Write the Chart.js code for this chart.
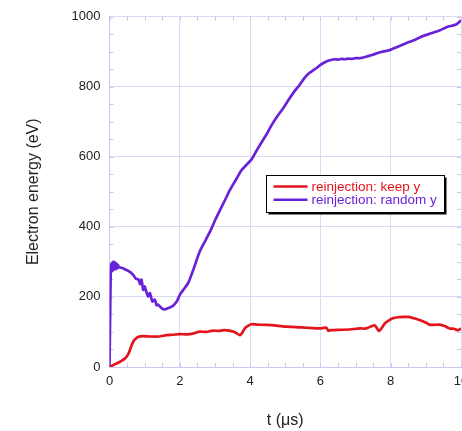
<!DOCTYPE html>
<html>
<head>
<meta charset="utf-8">
<script src="https://cdn.jsdelivr.net/npm/chart.js@4/dist/chart.umd.min.js"></script>
<style>
  html, body { margin: 0; padding: 0; background: #ffffff; }
  #wrap { width: 462px; height: 431px; }
</style>
</head>
<body>
<div id="wrap"><canvas id="c" width="462" height="431"></canvas></div>
<script>
// ---- data ----
const seriesLabels = ['reinjection: keep y', 'reinjection: random y'];
const xTicks = [0, 2, 4, 6, 8, 10];
const yTicks = [0, 200, 400, 600, 800, 1000];

const tKeep = [0, 0.1, 0.2, 0.3, 0.44, 0.54, 0.63, 0.7, 0.76, 0.82, 0.95, 1.15, 1.4, 1.63, 1.8, 2.0, 2.2, 2.4, 2.57, 2.75, 2.95, 3.1, 3.25, 3.4, 3.52, 3.62, 3.71, 3.78, 3.85, 3.95, 4.04, 4.2, 4.47, 4.75, 5.03, 5.3, 5.6, 5.98, 6.17, 6.22, 6.3, 6.55, 6.83, 7.12, 7.3, 7.45, 7.55, 7.66, 7.75, 7.83, 7.95, 8.06, 8.2, 8.35, 8.5, 8.63, 8.8, 9.01, 9.1, 9.2, 9.39, 9.55, 9.67, 9.8, 9.91, 10];
const eKeep = [0, 5, 10, 15, 24, 38, 62, 76, 82, 86, 88, 87, 87, 91, 92, 94, 93, 96, 101, 100, 104, 103, 105, 104, 101, 96, 91, 98, 110, 118, 122, 121, 120, 118, 115, 114, 112, 110, 112, 104, 105, 106, 107, 110, 110, 116, 119, 103, 112, 124, 133, 139, 142, 143, 143, 140, 135, 126, 121, 120, 121, 116, 110, 109, 105, 110];

const tRandom = [0, 0.035, 0.045, 0.055, 0.065, 0.075, 0.085, 0.095, 0.105, 0.115, 0.125, 0.135, 0.145, 0.155, 0.165, 0.175, 0.185, 0.195, 0.205, 0.215, 0.225, 0.235, 0.245, 0.26, 0.3, 0.38, 0.45, 0.52, 0.6, 0.68, 0.75, 0.82, 0.87, 0.91, 0.96, 1.0, 1.05, 1.1, 1.15, 1.22, 1.29, 1.34, 1.38, 1.48, 1.57, 1.67, 1.77, 1.86, 1.93, 2.0, 2.1, 2.24, 2.4, 2.57, 2.75, 2.9, 3.0, 3.14, 3.28, 3.42, 3.6, 3.76, 3.9, 4.04, 4.2, 4.35, 4.47, 4.6, 4.75, 4.94, 5.1, 5.25, 5.41, 5.55, 5.7, 5.89, 6.0, 6.1, 6.2, 6.3, 6.4, 6.5, 6.6, 6.7, 6.8, 6.9, 7.0, 7.12, 7.3, 7.49, 7.7, 7.97, 8.2, 8.44, 8.7, 8.91, 9.15, 9.39, 9.6, 9.86, 10];
const eRandom = [0, 276, 292, 272, 296, 274, 298, 276, 300, 278, 298, 280, 299, 279, 297, 281, 295, 280, 294, 282, 292, 283, 290, 286, 284, 282, 278, 275, 270, 262, 252, 250, 236, 249, 220, 230, 214, 201, 211, 187, 192, 176, 178, 168, 164, 168, 172, 180, 190, 206, 220, 240, 282, 330, 365, 395, 418, 447, 475, 504, 535, 562, 577, 592, 620, 645, 664, 688, 712, 738, 763, 785, 805, 825, 840, 853, 862, 868, 873, 876, 878, 877, 879, 878, 880, 879, 881, 881, 885, 891, 898, 904, 914, 924, 934, 944, 952, 960, 970, 977, 989, 994];

// ---- styles ----
const RED = '#e4141c';
const PURPLE = '#6a22d8';
const GRID = '#dadaf8';
const FRAME = '#c8c8f2';
const FONT = '"Liberation Sans", Arial, Helvetica, sans-serif';

function pts(xs, ys) { return xs.map((x, i) => ({ x: x, y: ys[i] })); }

const minorTicks = {
  id: 'minorTicks',
  beforeDatasetsDraw(chart) {
    const { ctx, chartArea: a, scales: { x, y } } = chart;
    ctx.save();
    ctx.strokeStyle = FRAME;
    ctx.lineWidth = 1;
    const len = 4;
    ctx.beginPath();
    for (let v = 0; v <= 10.0001; v += 0.5) {
      const px = Math.round(x.getPixelForValue(v)) + 0.5;
      ctx.moveTo(px, a.bottom); ctx.lineTo(px, a.bottom - len);
      ctx.moveTo(px, a.top); ctx.lineTo(px, a.top + len);
    }
    for (let v = 0; v <= 1000.001; v += 50) {
      const py = Math.round(y.getPixelForValue(v)) + 0.5;
      ctx.moveTo(a.left, py); ctx.lineTo(a.left + len, py);
      ctx.moveTo(a.right, py); ctx.lineTo(a.right - len, py);
    }
    ctx.stroke();
    ctx.restore();
  }
};

const boxLegend = {
  id: 'boxLegend',
  afterDraw(chart) {
    const ctx = chart.ctx;
    const L = 266.5, T = 175.5, W = 178, H = 37;
    ctx.save();
    ctx.fillStyle = '#000';
    ctx.fillRect(L + 2, T + 2, W, H);
    ctx.fillStyle = '#fff';
    ctx.fillRect(L, T, W, H);
    ctx.strokeStyle = '#000';
    ctx.lineWidth = 1;
    ctx.strokeRect(L, T, W, H);
    ctx.font = '13.5px ' + FONT;
    ctx.textBaseline = 'middle';
    chart.data.datasets.forEach((ds, i) => {
      const yy = T + 11 + i * 13.3;
      ctx.strokeStyle = ds.borderColor;
      ctx.lineWidth = 2.5;
      ctx.beginPath();
      ctx.moveTo(L + 7, yy); ctx.lineTo(L + 41, yy);
      ctx.stroke();
      ctx.fillStyle = ds.borderColor;
      ctx.fillText(ds.label, L + 45, yy + 0.5);
    });
    ctx.restore();
  }
};

new Chart(document.getElementById('c'), {
  type: 'line',
  data: {
    datasets: [
      { label: seriesLabels[0], data: pts(tKeep, eKeep), borderColor: RED, backgroundColor: RED, borderWidth: 2.7, pointRadius: 0, tension: 0.25, order: 1 },
      { label: seriesLabels[1], data: pts(tRandom, eRandom), borderColor: PURPLE, backgroundColor: PURPLE, borderWidth: 2.7, pointRadius: 0, tension: 0.25, order: 2 }
    ]
  },
  options: {
    responsive: false,
    animation: false,
    events: [],
    layout: { padding: { top: 16.5, right: 1, left: 0, bottom: 0 } },
    plugins: { legend: { display: false }, tooltip: { enabled: false } },
    scales: {
      x: {
        type: 'linear', min: 0, max: 10,
        afterBuildTicks(s) { s.ticks = xTicks.map(v => ({ value: v })); },
        afterFit(s) { s.height = 64; s.paddingLeft = 0; s.paddingRight = 0; },
        grid: { color: GRID, drawTicks: false, lineWidth: 1 },
        border: { color: FRAME },
        ticks: { color: '#222', font: { family: FONT, size: 13 }, padding: 7, maxRotation: 0, autoSkip: false, callback: v => String(v) },
        title: { display: true, text: 't (\u03bcs)', color: '#222', font: { family: FONT, size: 16 }, padding: { top: 0, bottom: 0.5 } }
      },
      y: {
        type: 'linear', min: 0, max: 1000,
        afterBuildTicks(s) { s.ticks = yTicks.map(v => ({ value: v })); },
        afterFit(s) { s.width = 109.5; s.paddingTop = 0; s.paddingBottom = 0; },
        grid: { color: GRID, drawTicks: false, lineWidth: 1 },
        border: { color: FRAME },
        ticks: { color: '#222', font: { family: FONT, size: 13 }, padding: 9, autoSkip: false, callback: v => String(v) },
        title: { display: true, text: 'Electron energy (eV)', color: '#222', font: { family: FONT, size: 16 }, padding: { top: 23.5, bottom: 0 } }
      }
    }
  },
  plugins: [minorTicks, boxLegend]
});
</script>
</body>
</html>
